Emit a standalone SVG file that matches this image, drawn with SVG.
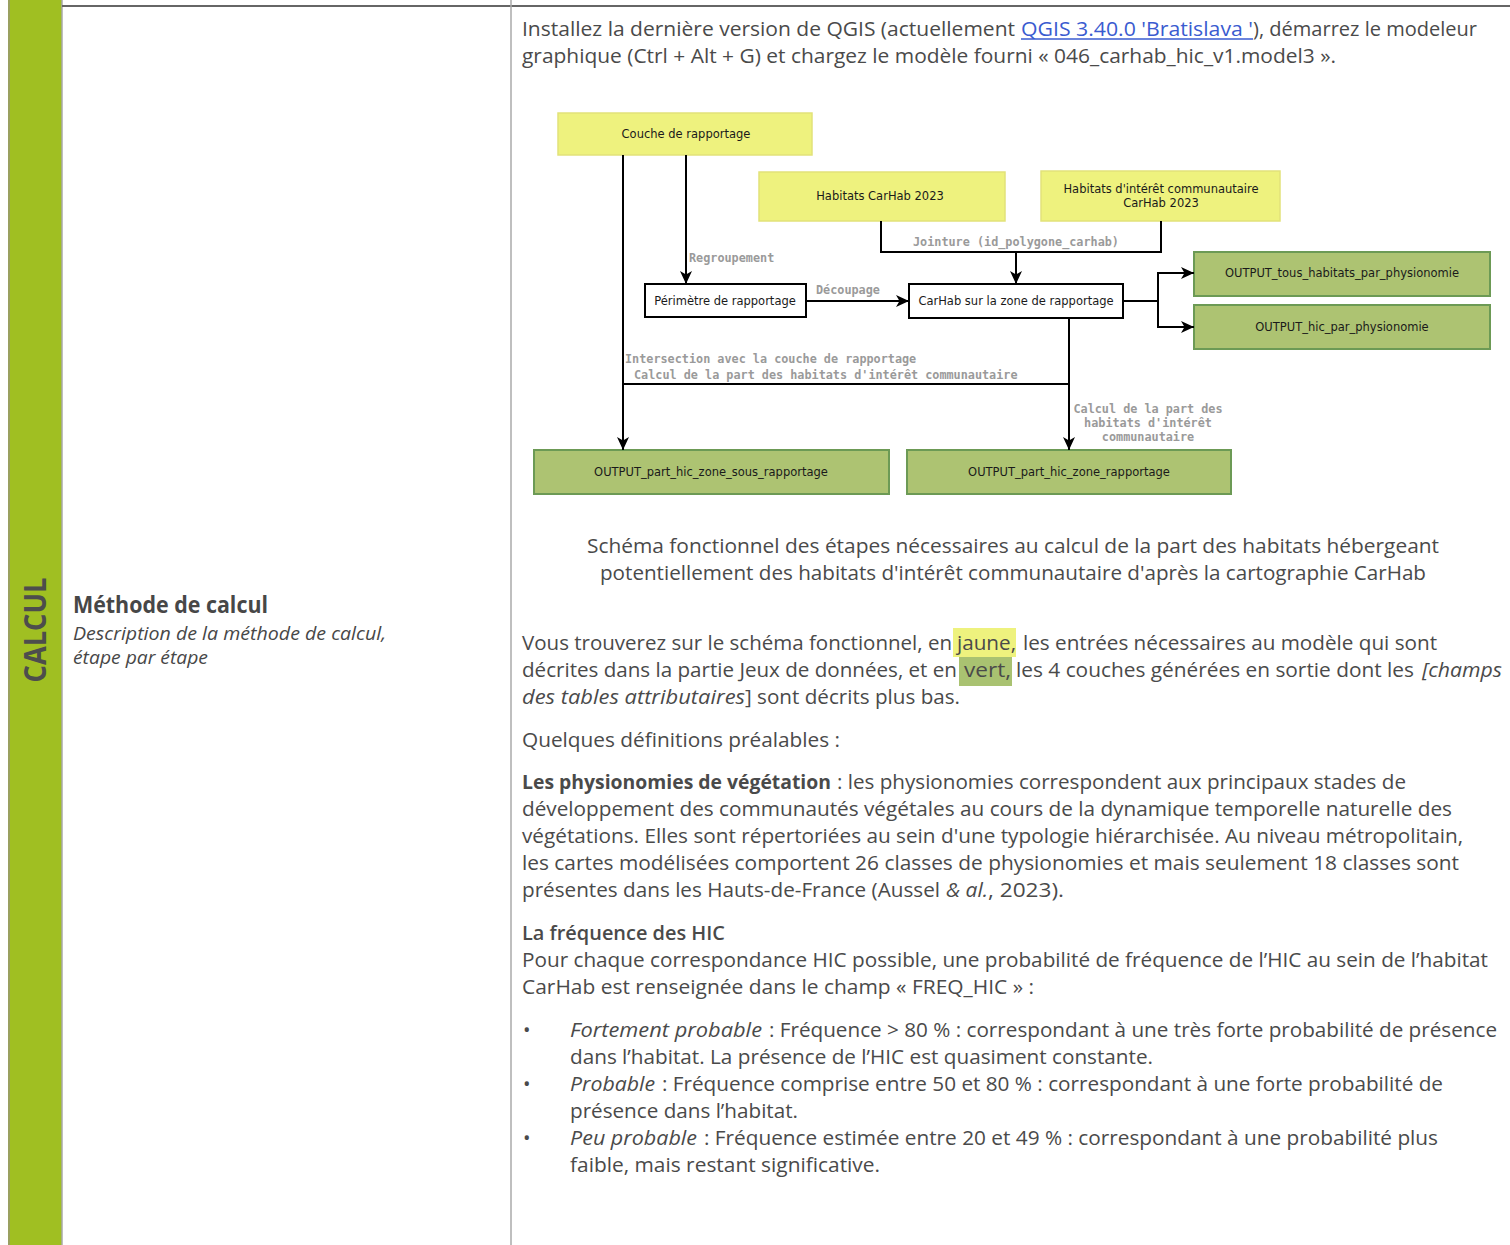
<svg xmlns="http://www.w3.org/2000/svg" width="1510" height="1245" viewBox="0 0 1510 1245">
<defs>
<marker id="arr" markerUnits="userSpaceOnUse" markerWidth="14" markerHeight="14" viewBox="0 0 14 14" refX="13" refY="7" orient="auto">
<path d="M0,1 L13,7 L0,13 L3.5,7 Z" fill="#000"/>
</marker>
</defs>
<style>
.body{font-family:"Open Sans","Noto Sans",sans-serif;font-size:20px;fill:#4a4a4a;}
.it{font-style:italic;}
.bd{font-weight:bold;}
.node{font-family:"DejaVu Sans",sans-serif;font-size:11.5px;fill:#1a1a1a;text-anchor:middle;}
.lab{font-family:"DejaVu Sans Mono",monospace;font-size:11.8px;font-weight:bold;fill:#9a9a9a;}
.yel{fill:#eef27e;stroke:#e2e27a;stroke-width:1.5;}
.grn{fill:#adc372;stroke:#6c9a55;stroke-width:2;}
.wht{fill:#fff;stroke:#000;stroke-width:2;}
.con{fill:none;stroke:#000;stroke-width:2;}
</style>
<rect width="1510" height="1245" fill="#fff"/>
<!-- page frame -->
<rect x="8" y="0" width="54" height="1245" fill="#a0bf22"/>
<line x1="9" y1="0" x2="9" y2="1245" stroke="#9aa060" stroke-width="2"/>
<line x1="62" y1="0" x2="62" y2="1245" stroke="#a8a8a8" stroke-width="1.5"/>
<line x1="62" y1="6" x2="1510" y2="6" stroke="#666" stroke-width="2"/>
<line x1="511" y1="0" x2="511" y2="1245" stroke="#aaa" stroke-width="1.5"/>
<text x="46" y="630" transform="rotate(-90 46 630)" text-anchor="middle" font-family="'Open Sans','Noto Sans',sans-serif" font-size="31" font-weight="bold" fill="#4d4d4d" textLength="105" lengthAdjust="spacingAndGlyphs">CALCUL</text>
<text x="73" y="613" font-family="'Open Sans','Noto Sans',sans-serif" font-size="23" font-weight="bold" fill="#474747" textLength="195" lengthAdjust="spacingAndGlyphs">Méthode de calcul</text>
<text x="73" y="640" font-family="'Open Sans','Noto Sans',sans-serif" font-size="19" font-style="italic" fill="#474747" textLength="313" lengthAdjust="spacingAndGlyphs">Description de la méthode de calcul,</text>
<text x="73" y="664" font-family="'Open Sans','Noto Sans',sans-serif" font-size="19" font-style="italic" fill="#474747" textLength="135" lengthAdjust="spacingAndGlyphs">étape par étape</text>

<!-- intro -->
<text class="body" x="522" y="36" textLength="493" lengthAdjust="spacingAndGlyphs">Installez la dernière version de QGIS (actuellement</text>
<text class="body" x="1021" y="36" style="fill:#3a5bd0" textLength="232" lengthAdjust="spacingAndGlyphs">QGIS 3.40.0 'Bratislava '</text>
<line x1="1021" y1="39" x2="1253" y2="39" stroke="#3a5bd0" stroke-width="1.3"/>
<text class="body" x="1253" y="36" textLength="224" lengthAdjust="spacingAndGlyphs">), démarrez le modeleur</text>
<text class="body" x="522" y="63" textLength="814" lengthAdjust="spacingAndGlyphs">graphique (Ctrl + Alt + G) et chargez le modèle fourni « 046_carhab_hic_v1.model3 ».</text>

<!-- diagram nodes -->
<g id="n-couche"><rect class="yel" x="558" y="113" width="254" height="42"/><text class="node" x="686" y="138">Couche de rapportage</text></g>
<g id="n-habitats"><rect class="yel" x="759" y="172" width="246" height="49"/><text class="node" x="880" y="200">Habitats CarHab 2023</text></g>
<g id="n-hic"><rect class="yel" x="1041" y="171" width="239" height="50"/><text class="node" x="1161" y="193">Habitats d'intérêt communautaire</text><text class="node" x="1161" y="207">CarHab 2023</text></g>
<g id="n-perimetre"><rect class="wht" x="645" y="284" width="161" height="33"/><text class="node" x="725" y="305">Périmètre de rapportage</text></g>
<g id="n-carhabzone"><rect class="wht" x="909" y="284" width="214" height="34"/><text class="node" x="1016" y="305">CarHab sur la zone de rapportage</text></g>
<g id="n-out-tous"><rect class="grn" x="1194" y="252" width="296" height="44"/><text class="node" x="1342" y="277">OUTPUT_tous_habitats_par_physionomie</text></g>
<g id="n-out-hic"><rect class="grn" x="1194" y="305" width="296" height="44"/><text class="node" x="1342" y="331">OUTPUT_hic_par_physionomie</text></g>
<g id="n-out-sous"><rect class="grn" x="534" y="450" width="355" height="44"/><text class="node" x="711" y="476">OUTPUT_part_hic_zone_sous_rapportage</text></g>
<g id="n-out-zone"><rect class="grn" x="907" y="450" width="324" height="44"/><text class="node" x="1069" y="476">OUTPUT_part_hic_zone_rapportage</text></g>

<!-- connectors -->
<g id="connectors">
<path class="con" d="M623,155 V450" marker-end="url(#arr)"/>
<path class="con" d="M686,155 V284" marker-end="url(#arr)"/>
<path class="con" d="M881,221 V252 H1161 V221"/>
<path class="con" d="M1016,252 V284" marker-end="url(#arr)"/>
<path class="con" d="M806,301 H909" marker-end="url(#arr)"/>
<path class="con" d="M1123,301 H1158 V273 H1194" marker-end="url(#arr)"/>
<path class="con" d="M1158,301 V327 H1194" marker-end="url(#arr)"/>
<path class="con" d="M1069,318 V450" marker-end="url(#arr)"/>
<path class="con" d="M623,384 H1069"/>
<text class="lab" x="689" y="262">Regroupement</text>
<text class="lab" x="913" y="246">Jointure (id_polygone_carhab)</text>
<text class="lab" x="816" y="294">Découpage</text>
<text class="lab" x="625" y="363">Intersection avec la couche de rapportage</text>
<text class="lab" x="634" y="379">Calcul de la part des habitats d'intérêt communautaire</text>
<text class="lab" x="1148" y="413" text-anchor="middle">Calcul de la part des</text>
<text class="lab" x="1148" y="427" text-anchor="middle">habitats d'intérêt</text>
<text class="lab" x="1148" y="441" text-anchor="middle">communautaire</text>
</g>

<!-- caption -->
<text class="body" x="587" y="553" textLength="852" lengthAdjust="spacingAndGlyphs">Schéma fonctionnel des étapes nécessaires au calcul de la part des habitats hébergeant</text>
<text class="body" x="600" y="580" textLength="826" lengthAdjust="spacingAndGlyphs">potentiellement des habitats d'intérêt communautaire d'après la cartographie CarHab</text>

<!-- paragraph with highlights -->
<rect x="953" y="628" width="63" height="29" fill="#eef27e"/>
<rect x="959" y="657" width="53" height="29" fill="#a9c271"/>
<text class="body" x="522" y="650" textLength="430" lengthAdjust="spacingAndGlyphs">Vous trouverez sur le schéma fonctionnel, en</text>
<text class="body" x="957" y="650" textLength="59" lengthAdjust="spacingAndGlyphs">jaune,</text>
<text class="body" x="1023" y="650" textLength="414" lengthAdjust="spacingAndGlyphs">les entrées nécessaires au modèle qui sont</text>
<text class="body" x="522" y="677" textLength="435" lengthAdjust="spacingAndGlyphs">décrites dans la partie Jeux de données, et en</text>
<text class="body" x="964" y="677" textLength="47" lengthAdjust="spacingAndGlyphs">vert,</text>
<text class="body" x="1016" y="677" textLength="398" lengthAdjust="spacingAndGlyphs">les 4 couches générées en sortie dont les</text>
<text class="body it" x="1422" y="677" textLength="80" lengthAdjust="spacingAndGlyphs">[champs</text>
<text class="body it" x="522" y="704" textLength="223" lengthAdjust="spacingAndGlyphs">des tables attributaires</text>
<text class="body" x="745" y="704" textLength="215" lengthAdjust="spacingAndGlyphs">] sont décrits plus bas.</text>

<text class="body" x="522" y="747" textLength="318" lengthAdjust="spacingAndGlyphs">Quelques définitions préalables :</text>

<text class="body bd" x="522" y="789" textLength="309" lengthAdjust="spacingAndGlyphs">Les physionomies de végétation</text>
<text class="body" x="837" y="789" textLength="569" lengthAdjust="spacingAndGlyphs">: les physionomies correspondent aux principaux stades de</text>
<text class="body" x="522" y="816" textLength="930" lengthAdjust="spacingAndGlyphs">développement des communautés végétales au cours de la dynamique temporelle naturelle des</text>
<text class="body" x="522" y="843" textLength="941" lengthAdjust="spacingAndGlyphs">végétations. Elles sont répertoriées au sein d'une typologie hiérarchisée. Au niveau métropolitain,</text>
<text class="body" x="522" y="870" textLength="937" lengthAdjust="spacingAndGlyphs">les cartes modélisées comportent 26 classes de physionomies et mais seulement 18 classes sont</text>
<text class="body" x="522" y="897" textLength="418" lengthAdjust="spacingAndGlyphs">présentes dans les Hauts-de-France (Aussel</text>
<text class="body it" x="946" y="897" textLength="42" lengthAdjust="spacingAndGlyphs">&amp; al.</text>
<text class="body" x="988" y="897" textLength="76" lengthAdjust="spacingAndGlyphs">, 2023).</text>

<text class="body" x="522" y="940" font-weight="600" textLength="203" lengthAdjust="spacingAndGlyphs">La fréquence des HIC</text>
<text class="body" x="522" y="967" textLength="966" lengthAdjust="spacingAndGlyphs">Pour chaque correspondance HIC possible, une probabilité de fréquence de l’HIC au sein de l’habitat</text>
<text class="body" x="522" y="994" textLength="512" lengthAdjust="spacingAndGlyphs">CarHab est renseignée dans le champ « FREQ_HIC » :</text>

<text class="body" x="523" y="1037" font-size="22">•</text>
<text class="body it" x="570" y="1037" textLength="192" lengthAdjust="spacingAndGlyphs">Fortement probable</text>
<text class="body" x="769" y="1037" textLength="728" lengthAdjust="spacingAndGlyphs">: Fréquence &gt; 80 % : correspondant à une très forte probabilité de présence</text>
<text class="body" x="570" y="1064" textLength="583" lengthAdjust="spacingAndGlyphs">dans l’habitat. La présence de l’HIC est quasiment constante.</text>
<text class="body" x="523" y="1091" font-size="22">•</text>
<text class="body it" x="570" y="1091" textLength="85" lengthAdjust="spacingAndGlyphs">Probable</text>
<text class="body" x="662" y="1091" textLength="781" lengthAdjust="spacingAndGlyphs">: Fréquence comprise entre 50 et 80 % : correspondant à une forte probabilité de</text>
<text class="body" x="570" y="1118" textLength="228" lengthAdjust="spacingAndGlyphs">présence dans l’habitat.</text>
<text class="body" x="523" y="1145" font-size="22">•</text>
<text class="body it" x="570" y="1145" textLength="127" lengthAdjust="spacingAndGlyphs">Peu probable</text>
<text class="body" x="704" y="1145" textLength="734" lengthAdjust="spacingAndGlyphs">: Fréquence estimée entre 20 et 49 % : correspondant à une probabilité plus</text>
<text class="body" x="570" y="1172" textLength="310" lengthAdjust="spacingAndGlyphs">faible, mais restant significative.</text>
</svg>
